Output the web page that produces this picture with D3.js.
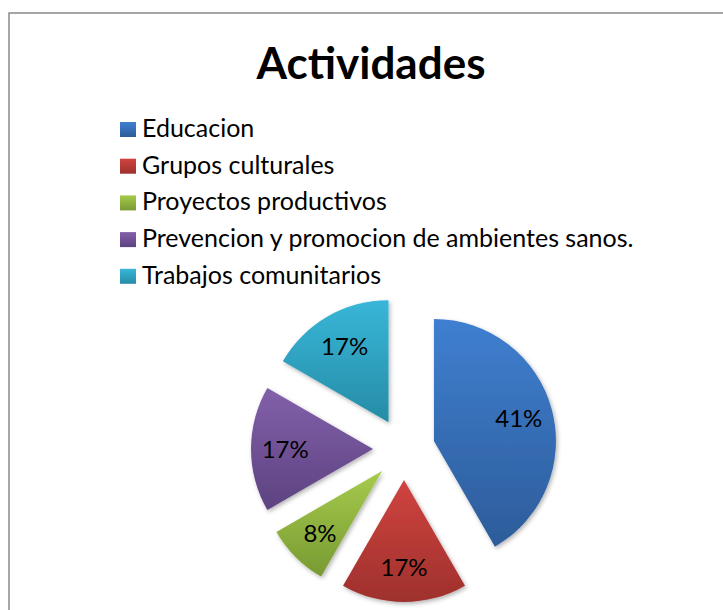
<!DOCTYPE html>
<html>
<head>
<meta charset="utf-8">
<script src="https://cdn.jsdelivr.net/npm/d3@7"></script>
<style>
  body { margin: 0; background: #fff; }
  svg text { font-family: Lato, "Open Sans", sans-serif; }
</style>
</head>
<body>
<div id="chart"></div>
<script>
// data
var categories = ["Educacion", "Grupos culturales", "Proyectos productivos",
                  "Prevencion y promocion de ambientes sanos.", "Trabajos comunitarios"]
var values = [5, 2, 1, 2, 2]
var pctLabels = ["41%", "17%", "8%", "17%", "17%"]
var topColors = ["#3f7fd0", "#d04440", "#a6cb4c", "#8260aa", "#38b6d8"]
var bottomColors = ["#2d5c9a", "#9e302c", "#789a33", "#5d4280", "#268ca6"]

var width = 723
var height = 610
var cx = 404, cy = 449
var radius = 122
var explode = 31

var svg = d3.select("#chart")
  .append("svg")
  .attr("width", width)
  .attr("height", height)

var defs = svg.append("defs")

// a soft shadow like the office chart
var shadow = defs.append("filter")
  .attr("id", "shadow")
  .attr("x", "-20%").attr("y", "-20%")
  .attr("width", "140%").attr("height", "140%")
shadow.append("feDropShadow")
  .attr("dx", 1.5).attr("dy", 2)
  .attr("stdDeviation", 2)
  .attr("flood-color", "#000")
  .attr("flood-opacity", 0.3)

categories.forEach(function(c, i) {
  var g = defs.append("linearGradient")
    .attr("id", "grad" + i)
    .attr("x1", 0).attr("y1", 0)
    .attr("x2", 0).attr("y2", 1)
  g.append("stop").attr("offset", "0%").attr("stop-color", topColors[i])
  g.append("stop").attr("offset", "100%").attr("stop-color", bottomColors[i])
})

// chart frame
svg.append("rect")
  .attr("x", 9)
  .attr("y", 13)
  .attr("width", width + 20)
  .attr("height", height + 20)
  .attr("fill", "none")
  .attr("stroke", "#898989")
  .attr("stroke-width", 1.5)

// title
svg.append("text")
  .attr("x", 371)
  .attr("y", 79)
  .attr("text-anchor", "middle")
  .style("font-size", "44px")
  .style("font-weight", "bold")
  .attr("fill", "#000")
  .text("Actividades")

// legend
var legend = svg.append("g")
  .attr("transform", "translate(120,122)")

var item = legend.selectAll("g")
  .data(categories)
  .enter()
  .append("g")
  .attr("transform", function(d, i) { return "translate(0," + (i * 36.7) + ")"; })

item.append("rect")
  .attr("width", 16)
  .attr("height", 15)
  .attr("fill", function(d, i) { return "url(#grad" + i + ")"; })

item.append("text")
  .attr("x", 22)
  .attr("y", 15)
  .style("font-size", "25px")
  .attr("fill", "#000")
  .text(function(d) { return d; })

// pie
var pie = d3.pie()
  .sort(null)
  .value(function(d) { return d; })

var arc = d3.arc()
  .innerRadius(0)
  .outerRadius(radius)

var labelArc = d3.arc()
  .innerRadius(radius * 0.72)
  .outerRadius(radius * 0.72)

var arcs = pie(values)

var slices = svg.append("g")
  .attr("transform", "translate(" + cx + "," + cy + ")")
  .selectAll("g")
  .data(arcs)
  .enter()
  .append("g")
  .attr("transform", function(d) {
    var mid = (d.startAngle + d.endAngle) / 2
    return "translate(" + (Math.sin(mid) * explode) + "," + (-Math.cos(mid) * explode) + ")"
  })

slices.append("path")
  .attr("d", arc)
  .attr("fill", function(d, i) { return "url(#grad" + i + ")"; })
  .attr("filter", "url(#shadow)")

slices.append("text")
  .attr("transform", function(d) { return "translate(" + labelArc.centroid(d) + ")"; })
  .attr("text-anchor", "middle")
  .attr("dy", "0.36em")
  .style("font-size", "24px")
  .attr("fill", "#000")
  .text(function(d, i) { return pctLabels[i]; })
</script>
</body>
</html>
